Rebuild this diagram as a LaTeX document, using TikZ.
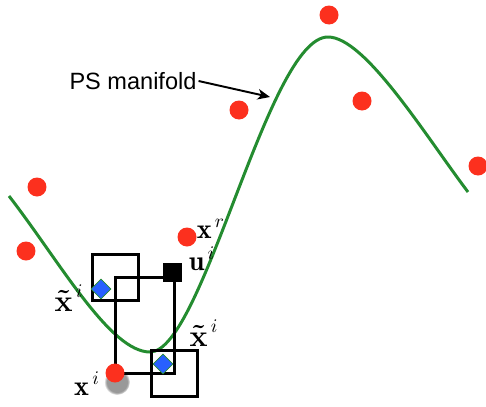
\documentclass[tikz,border=0pt]{standalone}
\usepackage{amsmath}
\usepackage{fontspec}
\usetikzlibrary{shapes.geometric,arrows.meta,fadings}
\newfontfamily\labelfont{Liberation Sans}
\definecolor{dotred}{RGB}{252,48,30}
\definecolor{curvegreen}{RGB}{36,140,48}
\definecolor{diablue}{RGB}{40,96,255}

\begin{document}
\begin{tikzpicture}[x=0.02cm,y=-0.02cm,
                every path/.style={>={Stealth[length=7pt,width=6pt,inset=2pt]}},
                dot/.style={circle,fill=dotred,minimum size=0.38cm,inner sep=0pt},
                nbbox/.style={draw=black,line width=1.3pt,minimum size=0.92cm,inner sep=0pt},
                gem/.style={diamond,fill=diablue,draw=curvegreen,line width=0.4pt,minimum size=0.4cm,inner sep=0pt},
                lbl/.style={inner sep=0pt,font=\fontsize{16}{19}\selectfont}]
  \useasboundingbox (0,0) rectangle (486,406);
  % the manifold
  \draw[curvegreen,line width=1.7pt] (9,196) .. controls (60,262) and (110,352) .. (150,352)
    .. controls (203,352) and (268,37) .. (328,37)
    .. controls (365,37) and (425,135) .. (468,192);
  \coordinate (onman) at (270,97);
  % samples
  \node[dot] (s1) at (37,187)  {};
  \node[dot] (s2) at (26,251)  {};
  \node[dot] (xr) at (187,237) {};
  \node[dot] (s4) at (239,110) {};
  \node[dot] (s5) at (329,15)  {};
  \node[dot] (s6) at (362,101) {};
  \node[dot] (s7) at (478,166) {};
  % neighbourhood of x^i
  \coordinate (c1) at (115.5,277.5);
  \coordinate (c2) at (174.5,373.5);
  \node[nbbox] (f1) at (c1) {};
  \node[nbbox] (f2) at (c2) {};
  \draw[line width=1.3pt] (c1) rectangle (c2);
  \node[gem] (t1) at (101,289) {};
  \node[gem] (t2) at (163,364) {};
  \node[fill=black,minimum size=0.38cm,inner sep=0pt] (u) at (172,272) {};
  \fill[black,opacity=0.4,path fading=circle with fuzzy edge 20 percent] (117,382) circle (13);
  \node[dot] (xi) at (115,373) {};
  % labels
  \node[lbl] (lxr) at (211,229) {$\mathbf{x}^{\,r}$};
  \node[lbl] (lu)  at (202,259) {$\mathbf{u}^{\,i}$};
  \node[lbl] (lt1) at (69,298)  {$\boldsymbol{\tilde{\mathbf{x}}}^{\,i}$};
  \node[lbl] (lt2) at (204,333) {$\boldsymbol{\tilde{\mathbf{x}}}^{\,i}$};
  \node[lbl] (lxi) at (87,384)  {$\mathbf{x}^{\,i}$};
  \node[inner sep=1pt,font=\labelfont\fontsize{13.4}{16}\selectfont] (ps) at (133,81) {PS manifold};
  \draw[->,line width=1.1pt] (ps.east) -- (onman);
\end{tikzpicture}
\end{document}
